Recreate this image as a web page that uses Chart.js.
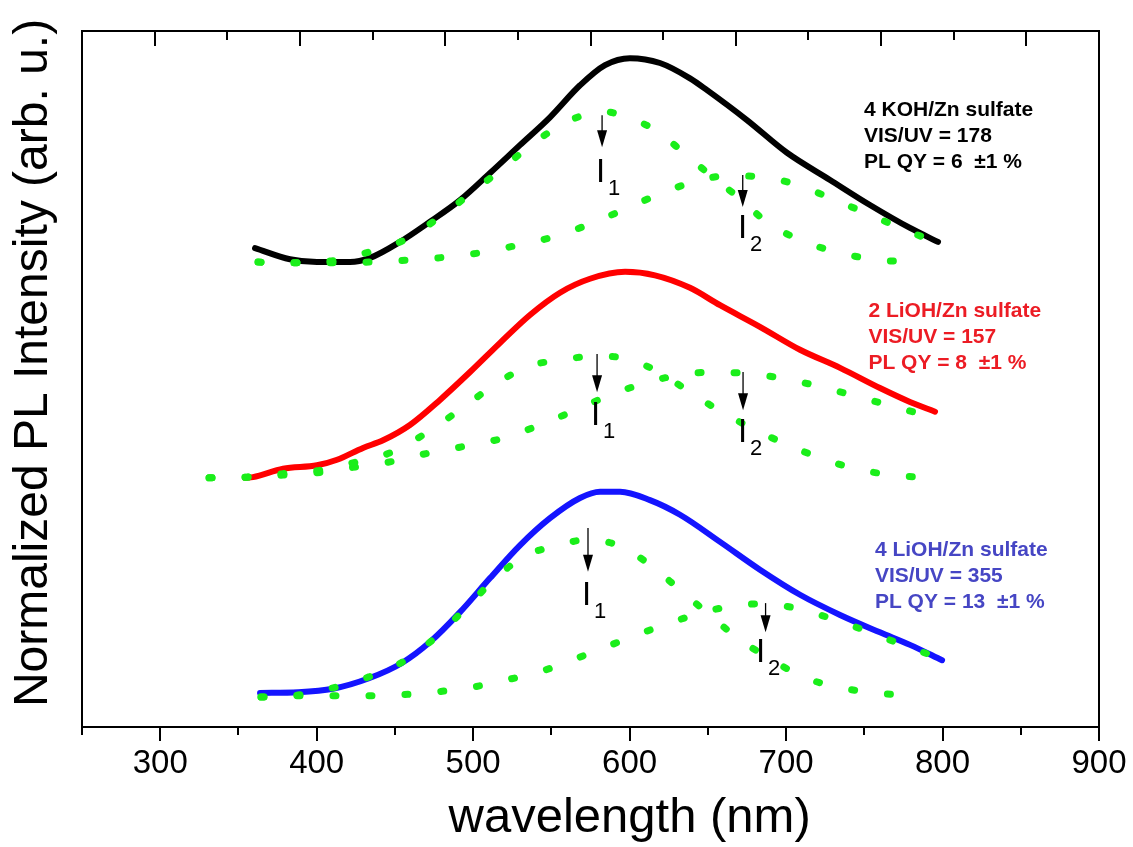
<!DOCTYPE html>
<html>
<head>
<meta charset="utf-8">
<script src="https://cdn.jsdelivr.net/npm/chart.js@4"></script>
<style>
  html, body { margin: 0; padding: 0; background: #fff; }
  canvas { display: block; }
</style>
</head>
<body>
<canvas id="plChart" width="1133" height="847"></canvas>
<script>
// wavelength (nm) and normalized PL intensity (curves are stacked)
const kohWl  = [360.6, 382.9, 400.2, 421.3, 434.1, 453.2, 472.4, 491.6, 510.8, 529.9, 549.1, 568.3, 584.3, 600.2, 619.4, 638.6, 649.5, 675.0, 700.6, 728.1, 753.6, 779.2, 797.1];
const kohPl  = [0.688, 0.672, 0.668, 0.668, 0.674, 0.697, 0.726, 0.757, 0.796, 0.836, 0.876, 0.922, 0.951, 0.961, 0.954, 0.932, 0.915, 0.872, 0.825, 0.786, 0.750, 0.717, 0.697];
const kohI1Wl = [362.5, 386.1, 410.4, 432.8, 456.4, 478.8, 498.0, 517.2, 533.1, 551.0, 572.8, 584.3, 595.8, 616.2, 634.1, 652.0, 670.6, 688.5, 708.9, 734.5, 760.0, 783.7];
const kohI1Pl = [0.668, 0.667, 0.670, 0.682, 0.700, 0.733, 0.766, 0.800, 0.829, 0.858, 0.881, 0.884, 0.878, 0.858, 0.826, 0.792, 0.759, 0.724, 0.700, 0.681, 0.671, 0.668];
const kohI2Wl = [362.5, 389.3, 434.1, 459.6, 482.0, 506.3, 529.9, 551.0, 572.8, 593.9, 616.2, 639.2, 662.9, 685.3, 707.0, 731.3, 753.6, 776.0, 795.8];
const kohI2Pl = [0.668, 0.667, 0.668, 0.671, 0.675, 0.682, 0.693, 0.704, 0.721, 0.741, 0.763, 0.782, 0.792, 0.790, 0.779, 0.757, 0.736, 0.714, 0.697];

const li2Wl  = [354.2, 359.3, 378.5, 400.2, 413.0, 429.6, 442.4, 459.6, 478.8, 498.0, 517.2, 536.3, 555.5, 574.7, 597.1, 616.2, 638.6, 657.8, 683.3, 708.9, 734.5, 760.0, 779.2, 795.2];
const li2Pl  = [0.358, 0.359, 0.371, 0.376, 0.384, 0.401, 0.412, 0.434, 0.470, 0.510, 0.552, 0.592, 0.624, 0.644, 0.654, 0.649, 0.631, 0.606, 0.575, 0.542, 0.516, 0.487, 0.467, 0.453];
const li2I1Wl = [331.2, 355.5, 378.5, 402.8, 425.8, 448.1, 471.1, 492.9, 515.2, 536.3, 555.5, 577.9, 598.3, 619.4, 638.6, 657.8, 680.1, 702.5, 724.9, 748.5, 772.8, 796.5];
const li2I1Pl = [0.358, 0.359, 0.364, 0.369, 0.381, 0.395, 0.424, 0.458, 0.494, 0.519, 0.527, 0.533, 0.529, 0.509, 0.481, 0.454, 0.427, 0.404, 0.384, 0.369, 0.361, 0.358];
const li2I2Wl = [331.2, 355.5, 378.5, 402.8, 425.8, 449.4, 472.4, 496.1, 519.1, 542.7, 565.1, 587.5, 609.8, 632.2, 654.6, 678.2, 702.5, 724.9, 748.5, 772.8, 795.2];
const li2I2Pl = [0.358, 0.359, 0.362, 0.366, 0.374, 0.382, 0.394, 0.404, 0.415, 0.434, 0.455, 0.477, 0.494, 0.506, 0.510, 0.507, 0.499, 0.487, 0.473, 0.458, 0.444];

const li4Wl  = [363.8, 388.1, 410.4, 433.4, 454.5, 472.4, 491.6, 510.8, 529.9, 549.1, 568.3, 581.1, 593.9, 613.0, 632.2, 657.8, 683.3, 708.9, 734.5, 760.0, 779.2, 799.7];
const li4Pl  = [0.049, 0.050, 0.055, 0.070, 0.092, 0.122, 0.165, 0.214, 0.261, 0.300, 0.329, 0.338, 0.338, 0.326, 0.305, 0.266, 0.226, 0.190, 0.161, 0.136, 0.118, 0.096];
const li4I1Wl = [364.4, 388.1, 411.7, 433.4, 454.5, 475.6, 496.7, 517.2, 536.3, 551.0, 572.8, 593.9, 613.0, 632.2, 652.7, 670.6, 689.1, 710.8, 733.8, 757.5, 781.1];
const li4I1Pl = [0.043, 0.046, 0.057, 0.072, 0.093, 0.128, 0.174, 0.220, 0.249, 0.259, 0.269, 0.260, 0.233, 0.197, 0.158, 0.125, 0.099, 0.072, 0.057, 0.049, 0.045];
const li4I2Wl = [364.4, 388.1, 412.3, 435.3, 459.0, 482.6, 506.3, 529.3, 551.7, 573.4, 595.1, 616.2, 638.6, 661.0, 683.3, 705.7, 731.3, 754.9, 779.2, 798.4];
const li4I2Pl = [0.043, 0.045, 0.045, 0.045, 0.047, 0.052, 0.060, 0.072, 0.086, 0.105, 0.124, 0.142, 0.159, 0.172, 0.177, 0.171, 0.154, 0.135, 0.114, 0.099];

const xTickLabels = ['300', '400', '500', '600', '700', '800', '900'];

// peak markers: wavelength, arrow start, arrow tip, label subscript
const arrowWl   = [582.4, 672.3, 579.2, 672.5, 573.4, 686.9];
const arrowFrom = [0.879, 0.793, 0.536, 0.510, 0.286, 0.178];
const arrowTo   = [0.833, 0.747, 0.481, 0.455, 0.223, 0.136];
const peakLabelWl = [580.4, 671.2, 577.2, 671.2, 571.5, 682.7];
const peakLabelPl = [0.783, 0.703, 0.434, 0.409, 0.175, 0.093];
const peakLabelSub = ['1', '2', '1', '2', '1', '2'];

// sample notes
const noteLines = [
  ['4 KOH/Zn sulfate', 'VIS/UV = 178', 'PL QY = 6  \u00b11 %'],
  ['2 LiOH/Zn sulfate', 'VIS/UV = 157', 'PL QY = 8  \u00b11 %'],
  ['4 LiOH/Zn sulfate', 'VIS/UV = 355', 'PL QY = 13  \u00b11 %']
];
const noteWl = [749.8, 752.6, 756.8];
const notePl = [0.878, 0.589, 0.246];
const noteColors = ['#000000', '#ec1c24', '#4646c4'];

const FONT = '"Liberation Sans", Arial, Helvetica, sans-serif';
const GREEN = '#1aee1a';

const pts = (xs, ys) => xs.map((v, i) => ({ x: v, y: ys[i] }));

const solid = (label, xs, ys, color) => ({
  label, data: pts(xs, ys), borderColor: color, borderWidth: 6,
  pointRadius: 0, cubicInterpolationMode: 'monotone', order: 2,
  borderCapStyle: 'round', borderJoinStyle: 'round'
});
const dotted = (label, xs, ys) => ({
  label, data: pts(xs, ys), borderColor: GREEN, borderWidth: 7,
  borderDash: [3, 33], borderCapStyle: 'round',
  pointRadius: 0, cubicInterpolationMode: 'monotone', order: 1
});

const extras = {
  id: 'extras',
  afterDraw(chart) {
    const { ctx, chartArea: a } = chart;
    const x = chart.scales.x, y = chart.scales.y, xTop = chart.scales.xTop;
    ctx.save();
    ctx.strokeStyle = '#000';
    ctx.lineWidth = 2;
    ctx.strokeRect(a.left, a.top, a.right - a.left, a.bottom - a.top);

    const seg = (x1, y1, x2, y2) => { ctx.beginPath(); ctx.moveTo(x1, y1); ctx.lineTo(x2, y2); ctx.stroke(); };
    x.ticks.forEach(t => {
      const px = Math.round(x.getPixelForValue(t.value));
      seg(px, a.bottom, px, a.bottom + (t.value % 100 === 0 ? 14 : 8));
    });
    xTop.ticks.forEach(t => {
      const px = Math.round(xTop.getPixelForValue(t.value));
      seg(px, a.top, px, a.top + (t.value % 2 === 1 ? 15 : 9));
    });

    // axis titles
    ctx.fillStyle = '#000';
    ctx.textAlign = 'center';
    ctx.textBaseline = 'alphabetic';
    ctx.font = '49px ' + FONT;
    ctx.fillText('wavelength (nm)', x.getPixelForValue(600), 832);
    ctx.font = '48px ' + FONT;
    ctx.save();
    ctx.translate(47, y.getPixelForValue(0.523));
    ctx.rotate(-Math.PI / 2);
    ctx.fillText('Normalized PL Intensity (arb. u.)', 0, 0);
    ctx.restore();

    // arrows
    ctx.lineWidth = 1.3;
    arrowWl.forEach((wl, i) => {
      const px = x.getPixelForValue(wl);
      const y1 = y.getPixelForValue(arrowFrom[i]);
      const y2 = y.getPixelForValue(arrowTo[i]);
      seg(px, y1, px, y2 - 10);
      ctx.beginPath();
      ctx.moveTo(px, y2);
      ctx.lineTo(px - 5, y2 - 17);
      ctx.lineTo(px + 5, y2 - 17);
      ctx.closePath();
      ctx.fill();
    });

    // I1 / I2 labels
    ctx.textAlign = 'left';
    peakLabelWl.forEach((wl, i) => {
      const px = x.getPixelForValue(wl) - 3;
      const py = y.getPixelForValue(peakLabelPl[i]);
      ctx.font = '33px ' + FONT;
      ctx.fillText('I', px, py);
      ctx.font = '22px ' + FONT;
      ctx.fillText(peakLabelSub[i], px + 12, py + 13);
    });

    // sample notes
    ctx.font = 'bold 21px ' + FONT;
    noteLines.forEach((lines, i) => {
      const px = x.getPixelForValue(noteWl[i]);
      const py = y.getPixelForValue(notePl[i]);
      ctx.fillStyle = noteColors[i];
      lines.forEach((s, k) => ctx.fillText(s, px, py + k * 26));
    });
    ctx.restore();
  }
};

new Chart(document.getElementById('plChart'), {
  type: 'line',
  data: {
    datasets: [
      dotted('4 KOH I1', kohI1Wl, kohI1Pl),
      dotted('4 KOH I2', kohI2Wl, kohI2Pl),
      dotted('2 LiOH I1', li2I1Wl, li2I1Pl),
      dotted('2 LiOH I2', li2I2Wl, li2I2Pl),
      dotted('4 LiOH I1', li4I1Wl, li4I1Pl),
      dotted('4 LiOH I2', li4I2Wl, li4I2Pl),
      solid('4 KOH/Zn sulfate', kohWl, kohPl, '#000000'),
      solid('2 LiOH/Zn sulfate', li2Wl, li2Pl, '#ff0000'),
      solid('4 LiOH/Zn sulfate', li4Wl, li4Pl, '#1414ff')
    ]
  },
  options: {
    responsive: false,
    animation: false,
    devicePixelRatio: 1,
    layout: { padding: { top: 31, right: 34, bottom: 0, left: 0 } },
    plugins: { legend: { display: false }, tooltip: { enabled: false } },
    scales: {
      x: {
        type: 'linear', position: 'bottom', min: 250, max: 900,
        grid: { display: false, drawTicks: false },
        border: { display: false },
        ticks: {
          stepSize: 50, autoSkip: false, maxRotation: 0, padding: 17,
          color: '#000', font: { family: FONT, size: 33 },
          callback: v => xTickLabels.includes(String(v)) ? String(v) : ''
        },
        afterFit: s => { s.height = 120; s.paddingLeft = 0; s.paddingRight = 0; }
      },
      xTop: {
        type: 'linear', position: 'top', min: 0, max: 14,
        grid: { display: false, drawTicks: false },
        border: { display: false },
        ticks: { display: false, stepSize: 1 },
        afterFit: s => { s.height = 0; s.paddingLeft = 0; s.paddingRight = 0; }
      },
      y: {
        type: 'linear', position: 'left', min: 0, max: 1,
        grid: { display: false, drawTicks: false },
        border: { display: false },
        ticks: { display: false },
        afterFit: s => { s.width = 82; s.paddingTop = 0; s.paddingBottom = 0; }
      }
    }
  },
  plugins: [extras]
});
</script>
</body>
</html>
